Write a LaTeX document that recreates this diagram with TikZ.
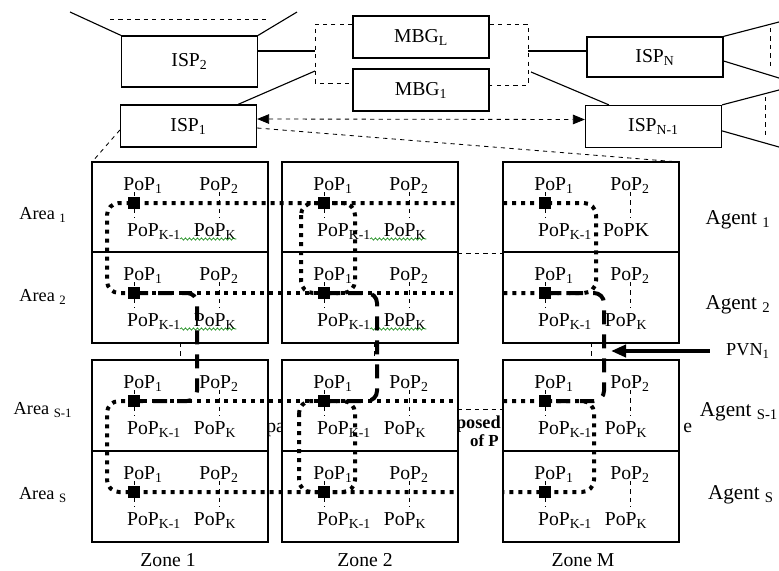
\documentclass[tikz,border=0pt]{standalone}
\usepackage{fontspec}
\setmainfont{Liberation Serif}
\usetikzlibrary{arrows.meta,calc,decorations.pathmorphing}

\tikzset{
  box/.style={draw, line width=0.9pt, minimum width=34mm, minimum height=10.5mm, inner sep=0pt, font=\fontsize{14}{16}\selectfont},
  cell/.style={draw, fill=white, line width=0.9pt, minimum width=44mm, minimum height=22.75mm, inner sep=0pt, outer sep=0pt},
  lbl/.style={font=\fontsize{14}{16}\selectfont, inner sep=0pt, anchor=base},
  sidelbl/.style={font=\fontsize{13}{15}\selectfont, inner sep=0pt},
  pop/.style={fill=black, minimum size=3mm, inner sep=0pt},
  link/.style={line width=0.8pt},
  guide/.style={dashed, line width=0.6pt},
  route/.style={line width=1mm, dash pattern=on 1mm off 1.25mm, rounded corners=3mm},
  pvn/.style={line width=1mm, dash pattern=on 3.5mm off 2.5mm, rounded corners=2.5mm},
  spell/.style={green!50!black, line width=0.4pt, decorate, decoration={snake, amplitude=0.3mm, segment length=1mm}},
  duplex/.style={{Triangle[length=3mm,width=2.4mm]}-{Triangle[length=3mm,width=2.4mm]}},
}

\begin{document}
\begin{tikzpicture}[x=0.25mm, y=-0.25mm]
\useasboundingbox (0,0) rectangle (779,571);

% ISPs and gateways
\node[box, minimum height=12.75mm] (isp2) at (189.5,61.5) {ISP\textsubscript{2}};
\node[box] (isp1) at (188.5,126) {ISP\textsubscript{1}};
\node[box] (mbgL) at (421,37) {MBG\textsubscript{L}};
\node[box] (mbg1) at (421,90) {MBG\textsubscript{1}};
\node[box, minimum height=10mm] (ispN) at (655,57) {ISP\textsubscript{N}};
\node[box] (ispM) at (653.5,126.5) {ISP\textsubscript{N-1}};

\coordinate (bl1) at (315,24);
\coordinate (bl2) at (315,83);
\coordinate (br1) at (528,24);
\coordinate (br2) at (528,85);
\coordinate (jl) at (315,51);
\coordinate (jl2) at (315,71);
\coordinate (jr) at (528,51);
\coordinate (jr2) at (531,72);
\draw[guide] (bl1 -| mbgL.west) -- (bl1) -- (bl2) -- (bl2 -| mbg1.west);
\draw[guide] (br1 -| mbgL.east) -- (br1) -- (br2) -- (br2 -| mbg1.east);
\draw[link] (jl -| isp2.east) -- (jl);
\draw[link] (jl2) -- ([xshift=-4.75mm]isp1.north east);
\draw[link] (jr) -- (jr -| ispN.west);
\draw[link] (jr2) -- ([xshift=6mm]ispM.north west);

% fans to other ISPs
\coordinate (f1) at (70,12);
\coordinate (f2) at (297,12);
\draw[link] (isp2.north west) -- (f1);
\draw[link] (isp2.north east) -- (f2);
\draw[guide] (110,19) -- (266,19);
\coordinate (g1) at (779,22);
\coordinate (g2) at (779,78);
\coordinate (g3) at (779,90);
\coordinate (g4) at (779,147);
\draw[link] (ispN.north east) -- (g1);
\draw[link] ([yshift=-1mm]ispN.east) -- (g2);
\draw[link] (ispM.north east) -- (g3);
\draw[link] ([yshift=-1.1mm]ispM.east) -- (g4);
\draw[guide] (770,28) -- (770,68);
\draw[guide] (765,97) -- (765,137);

% hidden text behind the grid
\node[lbl, anchor=base west] (fragpa) at (266,432) {pa};
\node[lbl, anchor=base east, font=\fontsize{13}{15}\selectfont\bfseries] (fragposed) at (501,428) {posed};
\node[lbl, anchor=base east, font=\fontsize{12}{14}\selectfont\bfseries] (fragof) at (499,446) {of P};
\node[lbl, anchor=base west] (frage) at (683,432) {e};

% zones x areas
\foreach \zx [count=\i] in {92,282,503} {
  \foreach \ry [count=\j] in {162,252,360,451} {
    \def\lastpop{PoP\textsubscript{K}}
    \ifnum\i=3 \ifnum\j=1 \def\lastpop{PoPK}\fi\fi
    \node[cell] (c\i-\j) at (\zx+88,\ry+45.5) {};
    \coordinate (p\i-\j) at (\zx+42,\ry+41);
    \node[lbl] (a\i-\j) at (\zx+51,\ry+28) {PoP\textsubscript{1}};
    \node[lbl] (b\i-\j) at (\zx+127,\ry+28) {PoP\textsubscript{2}};
    \node[lbl] (k\i-\j) at (\zx+62,\ry+74) {PoP\textsubscript{K-1}};
    \node[lbl] (m\i-\j) at (\zx+123,\ry+74) {\lastpop};
    \draw[guide] (\zx+42,\ry+30) -- (\zx+42,\ry+56);
    \draw[guide] (\zx+127,\ry+30) -- (\zx+127,\ry+56);
  }
}
\foreach \i in {1,2} {
  \foreach \j in {1,2} {
    \draw[spell] ($(k\i-\j.base east)+(-1,3)$) -- ($(m\i-\j.base east)+(0,3)$);
  }
}

\draw[guide] (c1-2.south) -- (c1-3.north);
\draw[guide] ([xshift=1mm]c2-2.south) -- ([xshift=1mm]c2-3.north);
\draw[guide] (c3-2.south) -- (c3-3.north);
\draw[guide] (c2-1.south east) -- (c3-1.south west);
\draw[guide] ($(c2-3.north east)+(0,49)$) -- ($(c3-3.north west)+(0,49)$);

\draw[guide] ([yshift=-1mm]isp1.west) -- (c1-1.north west);
\draw[guide] ([yshift=-0.5mm]isp1.east) -- (c3-1.north east);
\draw[guide, duplex] ([yshift=1.75mm]isp1.east) -- ([yshift=1.75mm]ispM.west);

% routes
\draw[route] (p1-2) -- (107,293) -- (107,203) -- (p1-1) -- (c2-1.east |- p1-1);
\draw[route] (p1-2) -- (c2-2.east |- p1-2);
\draw[route] (301,203) rectangle (355,293);
\draw[route] (c3-1.west |- p3-1) -- (596,203) -- (596,293) -- (c3-2.west |- p3-2);
\draw[route] (p1-3) -- (107,401) -- (107,492) -- (p1-4) -- (c2-4.east |- p1-4);
\draw[route] (p1-3) -- (c2-3.east |- p1-3);
\draw[route] (299,401) rectangle (355,492);
\draw[route] (c3-3.west |- p3-3) -- (594,401) -- (594,492) -- (c3-4.west |- p3-4);

\draw[pvn] (p1-2) -- (197,293) -- (197,401) -- (p1-3);
\draw[pvn] (p2-2) -- (377,293) -- (377,401) -- (p2-3);
\draw[pvn] (p3-2) -- (604,293) -- (604,401) -- (p3-3);

\foreach \i in {1,2,3} {
  \foreach \j in {1,2,3,4} {
    \node[pop] (s\i-\j) at (p\i-\j) {};
  }
}

% side labels
\node[sidelbl] (ar1) at (43,215) {Area \textsubscript{1}};
\node[sidelbl] (ar2) at (43,297) {Area \textsubscript{2}};
\node[sidelbl] (ar3) at (43,410) {Area \textsubscript{S-1}};
\node[sidelbl] (ar4) at (43,495) {Area \textsubscript{S}};
\node[sidelbl, font=\fontsize{15}{17}\selectfont] (ag1) at (738,220) {Agent \textsubscript{1}};
\node[sidelbl, font=\fontsize{15}{17}\selectfont] (ag2) at (738,305) {Agent \textsubscript{2}};
\node[sidelbl, font=\fontsize{15}{17}\selectfont] (ag3) at (739,412) {Agent \textsubscript{S-1}};
\node[sidelbl, font=\fontsize{15}{17}\selectfont] (ag4) at (741,495) {Agent \textsubscript{S}};
\node[sidelbl, font=\fontsize{14}{16}\selectfont] (zn1) at (168,560) {Zone 1};
\node[sidelbl, font=\fontsize{14}{16}\selectfont] (zn2) at (365,560) {Zone 2};
\node[sidelbl, font=\fontsize{14}{16}\selectfont] (znM) at (583,560) {Zone M};

\node[sidelbl] (pvn1) at (748,351) {PVN\textsubscript{1}};
\coordinate (pvnend) at (611,351);
\draw[line width=1mm, -{Triangle[length=3.75mm,width=3mm]}] ([xshift=-4mm]pvn1.west) -- (pvnend);
\end{tikzpicture}
\end{document}
